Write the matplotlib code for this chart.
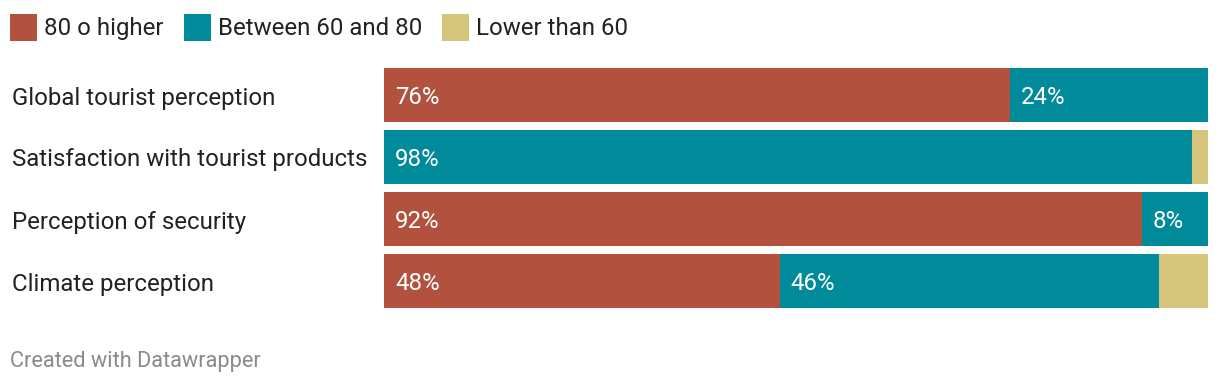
import numpy as np
import matplotlib.pyplot as plt
from matplotlib.patches import Rectangle

plt.rcParams['font.family'] = ['Roboto', 'DejaVu Sans']

categories = ['Global tourist perception', 'Satisfaction with tourist products',
              'Perception of security', 'Climate perception']
series_names = ['80 o higher', 'Between 60 and 80', 'Lower than 60']
high = [76, 0, 92, 48]
mid = [24, 98, 8, 46]
low = [0, 2, 0, 6]
colors = ['#b3513f', '#018a99', '#d6c67c']

W, H = 1220, 386
FS = 17.3
fig = plt.figure(figsize=(W / 100, H / 100), dpi=100)

# bar area in pixels: x 384..1208, y 68..308
ax = fig.add_axes([384 / W, 1 - 308 / H, (1208 - 384) / W, (308 - 68) / H])
bar_h = 54 / 62
y = np.arange(len(categories))
left = np.zeros(len(categories))
for vals, col in zip([high, mid, low], colors):
    vals = np.array(vals, dtype=float)
    ax.barh(y, vals, left=left, height=bar_h, color=col, linewidth=0)
    for yi, v, l in zip(y, vals, left):
        if v >= 8:
            ax.annotate(f'{v:.0f}%', (l, yi), xytext=(11, -2), textcoords='offset pixels',
                        ha='left', va='center', color='white', fontsize=FS)
    left += vals

ax.set_xlim(0, 100)
ax.set_ylim(len(categories) - 1 + bar_h / 2, -bar_h / 2)
ax.axis('off')

for yi, cat in zip(y, categories):
    ypix = 68 + 30 + 62 * yi
    fig.text(12 / W, 1 - ypix / H, cat, ha='left', va='center', fontsize=FS, color='#222222')

# legend
lx = 10
for name, col in zip(series_names, colors):
    fig.patches.append(Rectangle((lx / W, 1 - 41 / H), 27 / W, 27 / H,
                                 transform=fig.transFigure, color=col, linewidth=0))
    t = fig.text((lx + 34) / W, 1 - 28.5 / H, name, ha='left', va='center',
                 fontsize=FS, color='#222222')
    fig.canvas.draw()
    bb = t.get_window_extent()
    lx = bb.x1 + 20

fig.text(10 / W, 1 - 362 / H, 'Created with Datawrapper', ha='left', va='center',
         fontsize=15.7, color='#8a8a8a')

fig.savefig('out.png', dpi=100)
